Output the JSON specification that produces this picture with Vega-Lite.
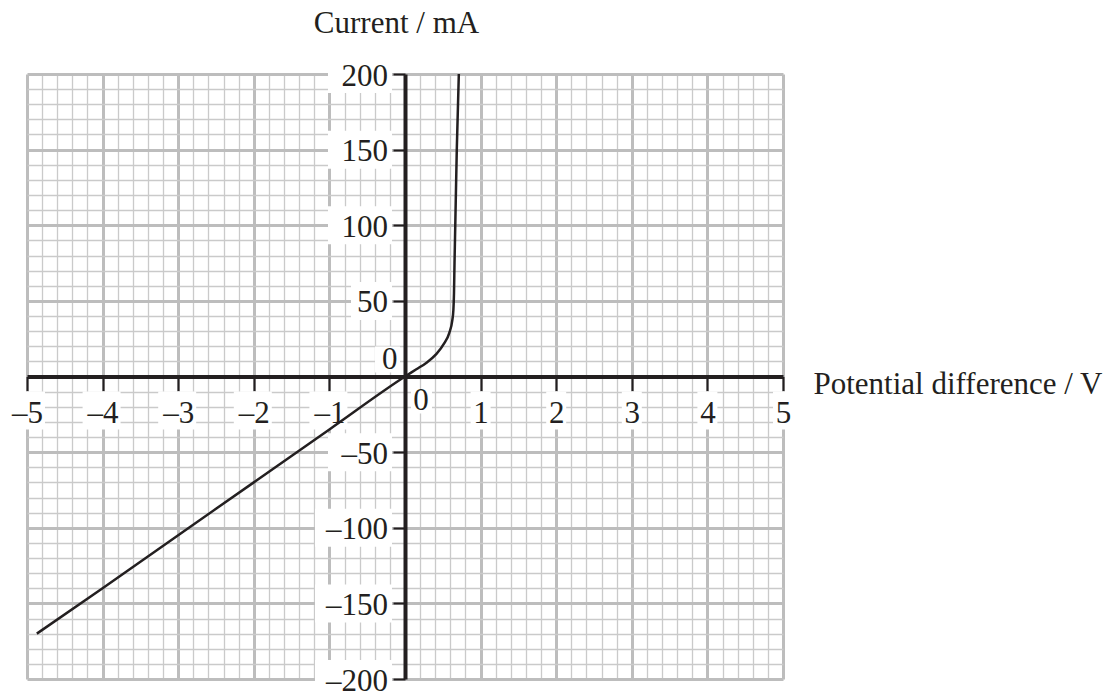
{
  "$schema": "https://vega.github.io/schema/vega-lite/v6.json",
  "width": 756,
  "height": 605,
  "autosize": "none",
  "padding": {"left": 27, "top": 74, "right": 334, "bottom": 16},
  "background": "white",
  "config": {"view": {"stroke": null}},
  "datasets": {
    "curve": [
      {"V": -4.87, "I": -170},
      {"V": -4, "I": -140},
      {"V": -3, "I": -105},
      {"V": -2, "I": -70},
      {"V": -1, "I": -35},
      {"V": 0, "I": 0},
      {"V": 0.15, "I": 4.8},
      {"V": 0.28, "I": 9},
      {"V": 0.41, "I": 14.6},
      {"V": 0.52, "I": 22},
      {"V": 0.585, "I": 28.7},
      {"V": 0.625, "I": 37},
      {"V": 0.64, "I": 44},
      {"V": 0.648, "I": 55},
      {"V": 0.655, "I": 75},
      {"V": 0.665, "I": 100},
      {"V": 0.685, "I": 150},
      {"V": 0.712, "I": 200}
    ],
    "xneg": [{"v": -5}, {"v": -4}, {"v": -3}, {"v": -2}, {"v": -1}],
    "xpos": [{"v": 1}, {"v": 2}, {"v": 3}, {"v": 4}, {"v": 5}],
    "zero": [{"v": 0}],
    "y2": [{"v": 50}],
    "y3": [{"v": 100}, {"v": 150}, {"v": 200}, {"v": -50}],
    "y4": [{"v": -100}, {"v": -150}, {"v": -200}]
  },
  "layer": [
    {
      "data": {"name": "curve"},
      "mark": {"type": "line", "opacity": 0},
      "encoding": {
        "x": {
          "field": "V", "type": "quantitative",
          "scale": {"domain": [-5, 5], "nice": false, "zero": false},
          "axis": {
            "orient": "bottom",
            "values": [-5,-4.8,-4.6,-4.4,-4.2,-4,-3.8,-3.6,-3.4,-3.2,-3,-2.8,-2.6,-2.4,-2.2,-2,-1.8,-1.6,-1.4,-1.2,-1,-0.8,-0.6,-0.4,-0.2,0,0.2,0.4,0.6,0.8,1,1.2,1.4,1.6,1.8,2,2.2,2.4,2.6,2.8,3,3.2,3.4,3.6,3.8,4,4.2,4.4,4.6,4.8,5],
            "grid": true, "domain": false, "ticks": false, "labels": false, "title": null, "zindex": 0,
            "gridColor": {"condition": {"test": "abs(datum.value - round(datum.value)) < 0.01", "value": "#bdbdbd"}, "value": "#cacaca"},
            "gridWidth": {"condition": {"test": "abs(datum.value - round(datum.value)) < 0.01", "value": 3}, "value": 1.3}
          }
        },
        "y": {
          "field": "I", "type": "quantitative",
          "scale": {"domain": [-200, 200], "nice": false, "zero": false},
          "axis": {
            "orient": "left",
            "values": [-200,-190,-180,-170,-160,-150,-140,-130,-120,-110,-100,-90,-80,-70,-60,-50,-40,-30,-20,-10,0,10,20,30,40,50,60,70,80,90,100,110,120,130,140,150,160,170,180,190,200],
            "grid": true, "domain": false, "ticks": false, "labels": false, "title": null, "zindex": 0,
            "gridColor": {"condition": {"test": "datum.value % 50 === 0", "value": "#bdbdbd"}, "value": "#cacaca"},
            "gridWidth": {"condition": {"test": "datum.value % 50 === 0", "value": 3}, "value": 1.3}
          }
        }
      }
    },
    {
      "data": {"name": "xneg"},
      "mark": {"type": "rect", "fill": "white", "xOffset": -20, "x2Offset": 18, "yOffset": 15, "y2Offset": 53},
      "encoding": {
        "x": {"field": "v", "type": "quantitative", "scale": {"domain": [-5, 5], "nice": false, "zero": false}, "axis": null},
        "x2": {"field": "v"},
        "y": {"datum": 0, "type": "quantitative", "scale": {"domain": [-200, 200], "nice": false, "zero": false}, "axis": null},
        "y2": {"datum": 0}
      }
    },
    {
      "data": {"name": "xpos"},
      "mark": {"type": "rect", "fill": "white", "xOffset": -10, "x2Offset": 10, "yOffset": 15, "y2Offset": 53},
      "encoding": {
        "x": {"field": "v", "type": "quantitative", "scale": {"domain": [-5, 5], "nice": false, "zero": false}, "axis": null},
        "x2": {"field": "v"},
        "y": {"datum": 0, "type": "quantitative", "scale": {"domain": [-200, 200], "nice": false, "zero": false}, "axis": null},
        "y2": {"datum": 0}
      }
    },
    {
      "data": {"name": "zero"},
      "mark": {"type": "rect", "fill": "white", "xOffset": 6, "x2Offset": 27, "yOffset": 13, "y2Offset": 37},
      "encoding": {
        "x": {"field": "v", "type": "quantitative", "scale": {"domain": [-5, 5], "nice": false, "zero": false}, "axis": null},
        "x2": {"field": "v"},
        "y": {"field": "v", "type": "quantitative", "scale": {"domain": [-200, 200], "nice": false, "zero": false}, "axis": null},
        "y2": {"field": "v"}
      }
    },
    {
      "data": {"name": "zero"},
      "mark": {"type": "rect", "fill": "white", "xOffset": -30, "x2Offset": -5, "yOffset": -30, "y2Offset": -4},
      "encoding": {
        "x": {"field": "v", "type": "quantitative", "scale": {"domain": [-5, 5], "nice": false, "zero": false}, "axis": null},
        "x2": {"field": "v"},
        "y": {"field": "v", "type": "quantitative", "scale": {"domain": [-200, 200], "nice": false, "zero": false}, "axis": null},
        "y2": {"field": "v"}
      }
    },
    {
      "data": {"name": "y2"},
      "mark": {"type": "rect", "fill": "white", "xOffset": -54, "x2Offset": -13, "yOffset": -19, "y2Offset": 19},
      "encoding": {
        "x": {"datum": 0, "type": "quantitative", "scale": {"domain": [-5, 5], "nice": false, "zero": false}, "axis": null},
        "x2": {"datum": 0},
        "y": {"field": "v", "type": "quantitative", "scale": {"domain": [-200, 200], "nice": false, "zero": false}, "axis": null},
        "y2": {"field": "v"}
      }
    },
    {
      "data": {"name": "y3"},
      "mark": {"type": "rect", "fill": "white", "xOffset": -77, "x2Offset": -13, "yOffset": -19, "y2Offset": 19},
      "encoding": {
        "x": {"datum": 0, "type": "quantitative", "scale": {"domain": [-5, 5], "nice": false, "zero": false}, "axis": null},
        "x2": {"datum": 0},
        "y": {"field": "v", "type": "quantitative", "scale": {"domain": [-200, 200], "nice": false, "zero": false}, "axis": null},
        "y2": {"field": "v"}
      }
    },
    {
      "data": {"name": "y4"},
      "mark": {"type": "rect", "fill": "white", "xOffset": -90, "x2Offset": -13, "yOffset": -19, "y2Offset": 19},
      "encoding": {
        "x": {"datum": 0, "type": "quantitative", "scale": {"domain": [-5, 5], "nice": false, "zero": false}, "axis": null},
        "x2": {"datum": 0},
        "y": {"field": "v", "type": "quantitative", "scale": {"domain": [-200, 200], "nice": false, "zero": false}, "axis": null},
        "y2": {"field": "v"}
      }
    },
    {
      "data": {"name": "curve"},
      "mark": {"type": "line", "color": "#231f20", "strokeWidth": 2.5, "interpolate": "monotone"},
      "encoding": {
        "x": {
          "field": "V", "type": "quantitative",
          "scale": {"domain": [-5, 5], "nice": false, "zero": false},
          "axis": {
            "orient": "bottom", "offset": -302.5, "zindex": 1, "grid": false,
            "values": [-5, -4, -3, -2, -1, 0, 1, 2, 3, 4, 5],
            "domain": true, "domainColor": "#231f20", "domainWidth": 4,
            "tickColor": "#231f20", "tickWidth": 2, "tickSize": 14,
            "tickOpacity": {"condition": {"test": "datum.value === 0", "value": 0}, "value": 1},
            "labelExpr": "datum.value < 0 ? '–' + abs(datum.value) : '' + datum.value",
            "labelFont": "Liberation Serif", "labelFontSize": 31, "labelColor": "#231f20",
            "labelAlign": "center", "labelBaseline": "alphabetic",
            "labelPadding": {"condition": {"test": "datum.value === 0", "value": 19}, "value": 32},
            "labelOffset": {"condition": {"test": "datum.value === 0", "value": 15.5}, "value": 0},
            "labelFlush": false, "labelOverlap": false, "labelBound": false,
            "title": "Potential difference / V",
            "titleFont": "Liberation Serif", "titleFontSize": 31, "titleFontWeight": "normal", "titleColor": "#231f20",
            "titleAngle": 0, "titleAlign": "left", "titleBaseline": "alphabetic",
            "titleX": 786, "titleY": 16.5
          }
        },
        "y": {
          "field": "I", "type": "quantitative",
          "scale": {"domain": [-200, 200], "nice": false, "zero": false},
          "axis": {
            "orient": "left", "offset": -378, "zindex": 1, "grid": false,
            "values": [-200, -150, -100, -50, 0, 50, 100, 150, 200],
            "domain": true, "domainColor": "#231f20", "domainWidth": 4,
            "tickColor": "#231f20", "tickWidth": 2, "tickSize": 12,
            "tickOpacity": {"condition": {"test": "datum.value === 0", "value": 0}, "value": 1},
            "labelExpr": "datum.value < 0 ? '–' + abs(datum.value) : '' + datum.value",
            "labelFont": "Liberation Serif", "labelFontSize": 31, "labelColor": "#231f20",
            "labelAlign": "right", "labelBaseline": "alphabetic",
            "labelPadding": {"condition": {"test": "datum.value === 0", "value": -4}, "value": 5.5},
            "labelOffset": {"condition": {"test": "datum.value === 0", "value": -8}, "value": 11},
            "labelFlush": false, "labelOverlap": false, "labelBound": false,
            "title": "Current / mA",
            "titleFont": "Liberation Serif", "titleFontSize": 31, "titleFontWeight": "normal", "titleColor": "#231f20",
            "titleAngle": 0, "titleAlign": "center", "titleBaseline": "alphabetic",
            "titleX": -9, "titleY": -42
          }
        }
      }
    }
  ],
  "resolve": {"axis": {"x": "independent", "y": "independent"}}
}
